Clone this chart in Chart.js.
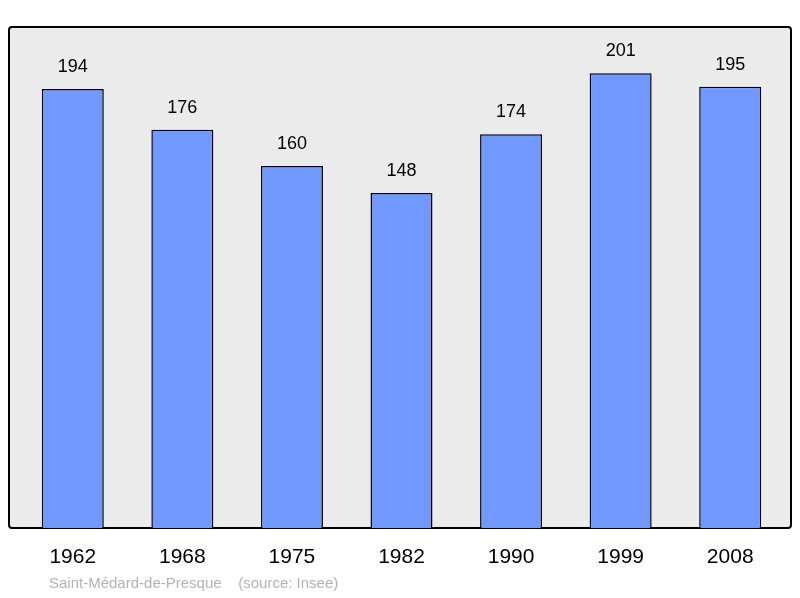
<!DOCTYPE html>
<html><head><meta charset="utf-8">
<script src="https://cdn.jsdelivr.net/npm/chart.js@4"></script>
<style>html,body{margin:0;padding:0;background:#fff}#w{width:800px;height:598px}</style>
</head><body><div id="w"><canvas id="c"></canvas></div>
<script>
const years = ["1962","1968","1975","1982","1990","1999","2008"];
const population = [194,176,160,148,174,201,195];
const footer = "Saint-Médard-de-Presque    (source: Insee)";

const boxPlugin = {
  id:'box',
  beforeDatasetsDraw(ch){
    const {ctx, chartArea:a} = ch;
    ctx.save();
    const x=9,y=27,w=782,h=501;
    ctx.beginPath();
    if (ctx.roundRect) ctx.roundRect(x,y,w,h,3); else ctx.rect(x,y,w,h);
    ctx.fillStyle='#ebebeb'; ctx.fill();
    ctx.lineWidth=2; ctx.strokeStyle='#000'; ctx.stroke();
    ctx.restore();
  },
  afterDatasetsDraw(ch){
    const {ctx} = ch;
    const xs = ch.scales.x, ys = ch.scales.y;
    ctx.save();
    ctx.fillStyle='#000';
    ctx.textAlign='center';
    ctx.textBaseline='middle';
    ctx.font='18px "Liberation Sans", Arial, sans-serif';
    population.forEach((v,i)=>{
      ctx.fillText(String(v), xs.getPixelForValue(i), ys.getPixelForValue(v)-22);
    });
    ctx.font='21px "Liberation Sans", Arial, sans-serif';
    years.forEach((yr,i)=>{
      ctx.fillText(yr, xs.getPixelForValue(i), 557);
    });
    ctx.textAlign='left';
    ctx.fillStyle='#b3b3b3';
    ctx.font='15px "Liberation Sans", Arial, sans-serif';
    ctx.fillText(footer, 49, 584);
    ctx.restore();
  }
};

new Chart(document.getElementById('c'), {
  type:'bar',
  data:{labels:years, datasets:[{data:population, backgroundColor:'#7098ff', borderColor:'#000', borderWidth:1.5, barPercentage:0.566, categoryPercentage:1}]},
  options:{
    responsive:true, maintainAspectRatio:false, animation:false,
    layout:{padding:{left:18,right:15,top:27,bottom:70}},
    plugins:{legend:{display:false}, tooltip:{enabled:false}},
    scales:{
      x:{display:false},
      y:{display:false, min:0, max:221.4}
    }
  },
  plugins:[boxPlugin]
});
</script></body></html>
